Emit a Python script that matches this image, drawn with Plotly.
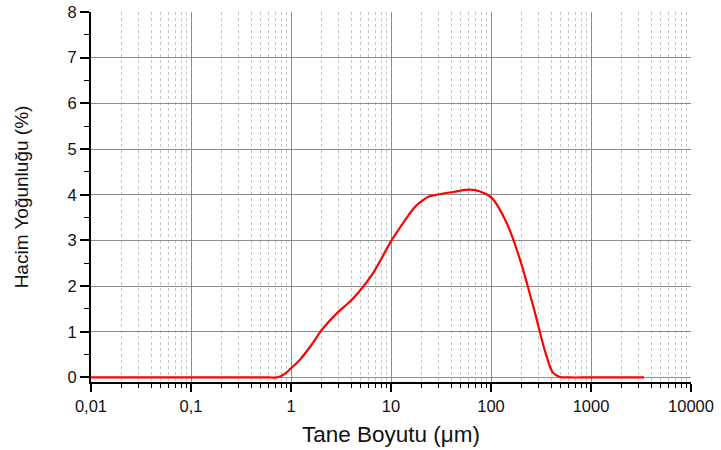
import plotly.graph_objects as go

# Particle size distribution (volume density vs. particle size)
size_um = [0.01, 0.03, 0.1, 0.3, 0.6, 0.72, 0.78, 0.88, 1.0, 1.23, 1.6, 2.03, 2.95,
           3.8, 4.68, 6.6, 10.2, 14.3, 17, 19.5, 24, 28.6, 42, 61.7, 77.6, 101.6,
           143.5, 195, 265, 360, 418, 490, 600, 1000, 2000, 3390]
density_pct = [0, 0, 0, 0, 0, 0, 0.02, 0.09, 0.2, 0.39, 0.71, 1.04, 1.43,
               1.64, 1.85, 2.28, 3.01, 3.49, 3.71, 3.83, 3.96, 4.0, 4.06, 4.11, 4.07, 3.93,
               3.38, 2.58, 1.55, 0.46, 0.1, 0.01, 0, 0, 0, 0]

x_tick_vals = [0.01, 0.1, 1, 10, 100, 1000, 10000]
x_tick_text = ["0,01", "0,1", "1", "10", "100", "1000", "10000"]
y_tick_vals = [0, 1, 2, 3, 4, 5, 6, 7, 8]

font_family = "Liberation Sans, Arial, sans-serif"

fig = go.Figure()
fig.add_trace(go.Scatter(
    x=size_um, y=density_pct, mode="lines",
    line=dict(color="#ff0000", width=2.2, shape="spline", smoothing=1.0),
    hoverinfo="x+y", showlegend=False,
))

fig.update_layout(
    width=721, height=450,
    margin=dict(l=91, r=30, t=12, b=68),
    paper_bgcolor="white", plot_bgcolor="white",
    font=dict(family=font_family, size=16, color="#111"),
    separators=",.",
)

fig.update_xaxes(
    type="log", range=[-2, 4], automargin=False,
    tickvals=x_tick_vals, ticktext=x_tick_text,
    ticks="outside", ticklen=8, tickwidth=1.5, tickcolor="black",
    showline=True, linecolor="black", linewidth=2,
    showgrid=True, gridcolor="#8c8c8c", gridwidth=1,
    zeroline=False,
    minor=dict(dtick="D1", ticks="outside", ticklen=4, tickwidth=1.2, tickcolor="black",
               showgrid=True, gridcolor="#c4c4c4", griddash="dot", gridwidth=1),
    title=dict(text="Tane Boyutu (μm)", font=dict(size=22.5), standoff=12),
    tickfont=dict(size=16.5),
)

fig.update_yaxes(
    range=[-0.1, 8], automargin=False,
    tickvals=y_tick_vals,
    ticks="outside", ticklen=9, tickwidth=1.5, tickcolor="black",
    showline=True, linecolor="black", linewidth=2,
    showgrid=True, gridcolor="#8c8c8c", gridwidth=1,
    zeroline=False,
    minor=dict(dtick=0.5, ticks="outside", ticklen=5, tickwidth=1.2, tickcolor="black",
               showgrid=False),
    title=dict(text="Hacim Yoğunluğu (%)", font=dict(size=19), standoff=34),
    tickfont=dict(size=16.5),
)

fig.write_html("out.html")
